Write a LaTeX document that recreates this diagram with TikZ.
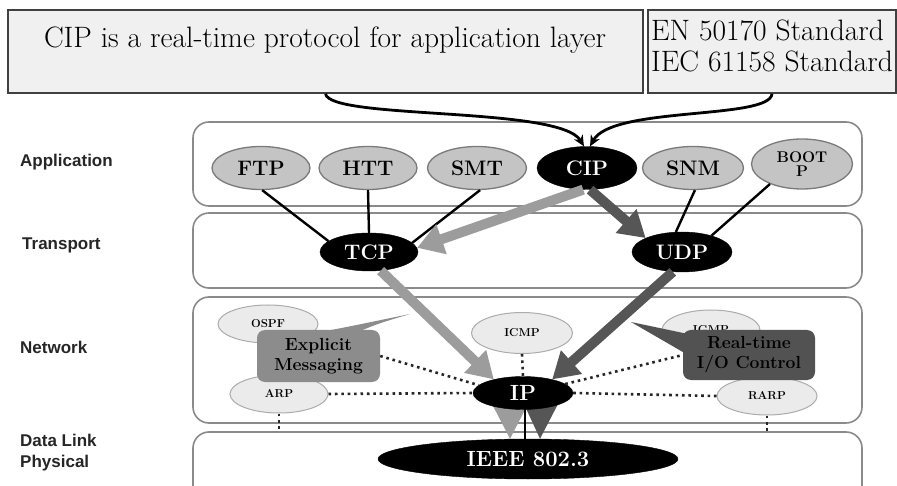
\documentclass[tikz,border=0pt]{standalone}
\usepackage{fontspec}
\newfontfamily\lsans{Liberation Sans}
\usetikzlibrary{shapes.geometric,arrows.meta,calc}
\definecolor{notefill}{HTML}{F0F0F0}
\definecolor{layerline}{HTML}{8A8A8A}
\definecolor{appfill}{HTML}{C4C4C4}
\definecolor{ellline}{HTML}{7A7A7A}
\definecolor{netfill}{HTML}{EBEBEB}
\definecolor{lightarr}{HTML}{9C9C9C}
\definecolor{darkarr}{HTML}{565656}
\definecolor{explfill}{HTML}{8C8C8C}
\definecolor{rtfill}{HTML}{525252}
\tikzset{
 notebox/.style={draw=black!75, line width=1.6pt, fill=notefill, inner sep=0pt},
 notetext/.style={font=\fontsize{29.5}{31}\selectfont, inner sep=0pt},
 layerbox/.style={draw=layerline, line width=1.6pt, rounded corners=16pt, inner sep=0pt},
 layerlabel/.style={anchor=west, inner sep=0pt, font=\lsans\bfseries\fontsize{17}{20}\selectfont, text=black!85},
 appell/.style={ellipse, draw=ellline, line width=1.3pt, fill=appfill, inner sep=0pt, font=\bfseries\fontsize{21}{22}\selectfont},
 blackell/.style={ellipse, draw=black, fill=black, text=white, inner sep=0pt, font=\bfseries\fontsize{21}{22}\selectfont},
 netell/.style={ellipse, draw=gray!65, line width=1pt, fill=netfill, inner sep=0pt, font=\bfseries\fontsize{11.5}{12}\selectfont},
 callbox/.style={rounded corners=8pt, inner sep=0pt, align=center, font=\bfseries\fontsize{17.5}{20}\selectfont},
 solidlink/.style={line width=2.4pt, black},
 bigarrow/.style={line width=10pt, -{Triangle[width=30pt,length=26pt]}},
 dotlink/.style={line width=2.6pt, dash pattern=on 2.6pt off 3.8pt, black!85},
 curvearrow/.style={line width=2.8pt, black, -{Stealth[length=11pt,width=10pt]}}
}
\begin{document}
\begin{tikzpicture}[x=1pt,y=-1pt]
\clip (0,0) rectangle (897,486);
\fill[white] (0,0) rectangle (897,486);

% top notes
\node[notebox, minimum width=635pt, minimum height=83pt] (note1) at (325.5,51.5) {};
\node[notetext] (note1txt) at (325,40) {CIP is a real-time protocol for application layer};
\node[notebox, minimum width=248pt, minimum height=83pt] (note2) at (772,51.5) {};
\node[notetext, align=left, anchor=west] (note2txt) at (651,46) {EN 50170 Standard\\IEC 61158 Standard};

% layer boxes
\node[layerbox, minimum width=669pt, minimum height=84pt] (app) at (527.5,164) {};
\node[layerbox, minimum width=669pt, minimum height=75pt] (trans) at (527.5,250.5) {};
\node[layerbox, minimum width=669pt, minimum height=126pt] (net) at (527.5,360) {};
\node[layerbox, minimum width=669pt, minimum height=70pt] (dl) at (527.5,467) {};

% layer labels
\node[layerlabel] (lapp) at (20,162) {Application};
\node[layerlabel] (ltrans) at (22,245) {Transport};
\node[layerlabel] (lnet) at (20,347) {Network};
\node[layerlabel] (ldl) at (20,440) {Data Link};
\node[layerlabel] (lphy) at (20,463) {Physical};

% application protocols
\node[appell, minimum width=98pt, minimum height=43pt] (ftp) at (261,168) {FTP};
\node[appell, minimum width=98pt, minimum height=43pt] (htt) at (368,168) {HTT};
\node[appell, minimum width=99pt, minimum height=43pt] (smt) at (477,168) {SMT};
\node[blackell, minimum width=100pt, minimum height=43pt] (cip) at (587,168) {CIP};
\node[appell, minimum width=101pt, minimum height=43pt] (snm) at (693,168) {SNM};
\node[appell, minimum width=101pt, minimum height=50pt, align=center, font=\bfseries\fontsize{15.5}{14}\selectfont] (bootp) at (802,164) {BOOT\\P};

% transport
\node[blackell, minimum width=98pt, minimum height=38pt] (tcp) at (369,252) {TCP};
\node[blackell, minimum width=100pt, minimum height=40pt] (udp) at (682,252) {UDP};

% network ellipses
\node[netell, minimum width=100pt, minimum height=38pt] (ospf) at (268,324) {OSPF};
\node[netell, minimum width=98pt, minimum height=38pt] (arp) at (279,394) {ARP};
\node[netell, minimum width=101pt, minimum height=41pt] (icmp) at (522,333) {ICMP};
\node[netell, minimum width=98pt, minimum height=40pt] (igmp) at (711,330) {IGMP};
\node[netell, minimum width=100pt, minimum height=38pt] (rarp) at (767,396) {RARP};

% data link
\node[blackell, minimum width=300pt, minimum height=40pt, font=\bfseries\fontsize{22}{24}\selectfont] (ieee) at (528,459) {IEEE 802.3};

% solid links
\draw[solidlink] (ftp.-87) -- (tcp.165);
\draw[solidlink] (htt.south) -- (tcp.north);
\draw[solidlink] (smt.-82) -- (tcp.12);
\draw[solidlink] (snm.-85) -- (udp.107);
\draw[solidlink] (bootp.212) -- (udp.29);

% curved arrows from notes
\draw[curvearrow] (note1.south) .. controls (330,120) and (560,106) .. (cip.98);
\draw[curvearrow] (note2.south) .. controls (770,120) and (612,106) .. (cip.82);

% callouts
\coordinate (explptr) at (410,314);
\coordinate (rtptr) at (631,322);
\fill[explfill] (326,331) .. controls (352,326) .. (explptr) .. controls (380,323) .. (360,331) -- cycle;
\fill[rtfill] (rtptr) -- (688,334) -- (688,355) -- cycle;

% arrow heads to IEEE (behind IP)
\fill[lightarr] (492,404) -- (528,404) -- ($(ieee.north)+(-18,0)$) -- cycle;
\fill[darkarr] (524,404) -- (558,404) -- ($(ieee.north)+(12,0)$) -- cycle;
\coordinate (ipfoot) at (525,405);
\draw[line width=2.2pt, black] (ipfoot) -- (ipfoot |- ieee.north);

% IP
\node[blackell, minimum width=100pt, minimum height=33pt, font=\bfseries\fontsize{22}{22}\selectfont] (ip) at (523,393) {IP};

% big arrows
\draw[bigarrow, lightarr] (cip.-100) -- (tcp.5);
\draw[bigarrow, darkarr] (cip.-82) -- (udp.159);
\draw[bigarrow, lightarr] (tcp.-58) -- (ip.155);
\draw[bigarrow, darkarr] (udp.-115) -- (ip.25);

% callout boxes
\node[callbox, fill=explfill, minimum width=123pt, minimum height=52pt] (expl) at (318.5,356) {Explicit\\Messaging};
\node[callbox, fill=rtfill, minimum width=132pt, minimum height=50pt] (rt) at (749,355) {Real-time\\I/O Control};

% dotted links
\draw[dotlink] (expl.east) -- (ip.170);
\draw[dotlink] (arp.east) -- (ip.west);
\draw[dotlink] (ip.east) -- (rarp.west);
\draw[dotlink] (ip.12) -- (rt.west);
\draw[dotlink] (icmp.south) -- (ip.north);
\draw[dotlink] (arp.south) -- (arp.south |- dl.north);
\draw[dotlink] (rarp.south) -- (rarp.south |- dl.north);
\end{tikzpicture}
\end{document}
